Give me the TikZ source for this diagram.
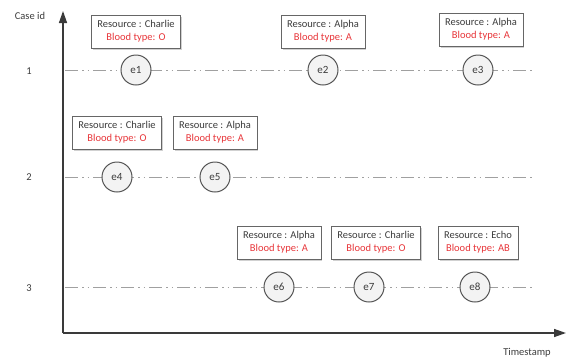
\documentclass[tikz,border=0pt]{standalone}
\usepackage{fontspec}
\setmainfont{Carlito}
\usetikzlibrary{arrows.meta}
\usetikzlibrary{positioning}
\usetikzlibrary{shadows}
\definecolor{axisgray}{HTML}{3A3A3A}
\definecolor{trackgray}{HTML}{A0A0A0}
\definecolor{evgray}{HTML}{555555}
\definecolor{evfill}{HTML}{F3F3F3}
\definecolor{boxgray}{HTML}{666666}
\definecolor{labelgray}{HTML}{3C3C3C}
\definecolor{bloodred}{HTML}{E8363A}

\begin{document}
\begin{tikzpicture}[x=1pt, y=-1pt,
    font=\fontsize{10.5}{13}\selectfont,
    axis/.style={draw=axisgray, line width=1.4pt, -{Triangle[length=12pt, width=8pt]}},
    track/.style={draw=trackgray, line width=1pt, dash pattern=on 13pt off 4pt on 1.5pt off 4pt on 1.5pt off 4pt},
    event/.style={circle, draw=evgray, fill=evfill, line width=1pt, minimum size=30pt, inner sep=0pt, text=labelgray,
      font=\fontsize{11}{13}\selectfont},
    info/.style={draw=boxgray, fill=white, line width=0.9pt, align=center, inner xsep=6pt, inner ysep=5.5pt, text=labelgray,
      drop shadow={shadow xshift=1.5pt, shadow yshift=-1.5pt, fill=gray!60, opacity=.6}},
    tag/.style={text=labelgray},
  ]
    \useasboundingbox (0,0) rectangle (571,360);

    \coordinate (origin) at (63,333);
    \coordinate (ytip) at (63,11);
    \coordinate (xtip) at (566,333);
    \coordinate (r1s) at (65,70);
    \coordinate (r1e) at (533,70);
    \coordinate (r2s) at (65,177);
    \coordinate (r2e) at (533,177);
    \coordinate (r3s) at (65,287);
    \coordinate (r3e) at (533,287);

    \draw[track] (r1s) -- (r1e);
    \draw[track] (r2s) -- (r2e);
    \draw[track] (r3s) -- (r3e);
    \draw[axis] (origin) -- (ytip);
    \draw[axis] (origin) -- (xtip);

    \node[tag] (caseid) at (30,16) {Case id};
    \node[tag] (stamp) at (527,353) {Timestamp};
    \node[tag] (c1) at (29,71) {1};
    \node[tag] (c2) at (29,177) {2};
    \node[tag] (c3) at (29,288) {3};

    \node[event] (e1) at (136,70) {e1};
    \node[event] (e2) at (323,70) {e2};
    \node[event] (e3) at (478,70) {e3};
    \node[event] (e4) at (117,177) {e4};
    \node[event] (e5) at (215,177) {e5};
    \node[event] (e6) at (279,287) {e6};
    \node[event] (e7) at (369,287) {e7};
    \node[event] (e8) at (475,287) {e8};

    \node[info, above=6pt of e1] (b1) {Resource : Charlie\\ \textcolor{bloodred}{Blood type: O}};
    \node[info, above=6pt of e2] (b2) {Resource : Alpha\\ \textcolor{bloodred}{Blood type: A}};
    \node[info, above=8pt of e3, xshift=3pt] (b3) {Resource : Alpha\\ \textcolor{bloodred}{Blood type: A}};
    \node[info, above=12pt of e4] (b4) {Resource : Charlie\\ \textcolor{bloodred}{Blood type: O}};
    \node[info, above=12pt of e5] (b5) {Resource : Alpha\\ \textcolor{bloodred}{Blood type: A}};
    \node[info, above=12pt of e6] (b6) {Resource : Alpha\\ \textcolor{bloodred}{Blood type: A}};
    \node[info, above=12pt of e7, xshift=7pt] (b7) {Resource : Charlie\\ \textcolor{bloodred}{Blood type: O}};
    \node[info, above=12pt of e8, xshift=3pt] (b8) {Resource : Echo\\ \textcolor{bloodred}{Blood type: AB}};
\end{tikzpicture}
\end{document}
